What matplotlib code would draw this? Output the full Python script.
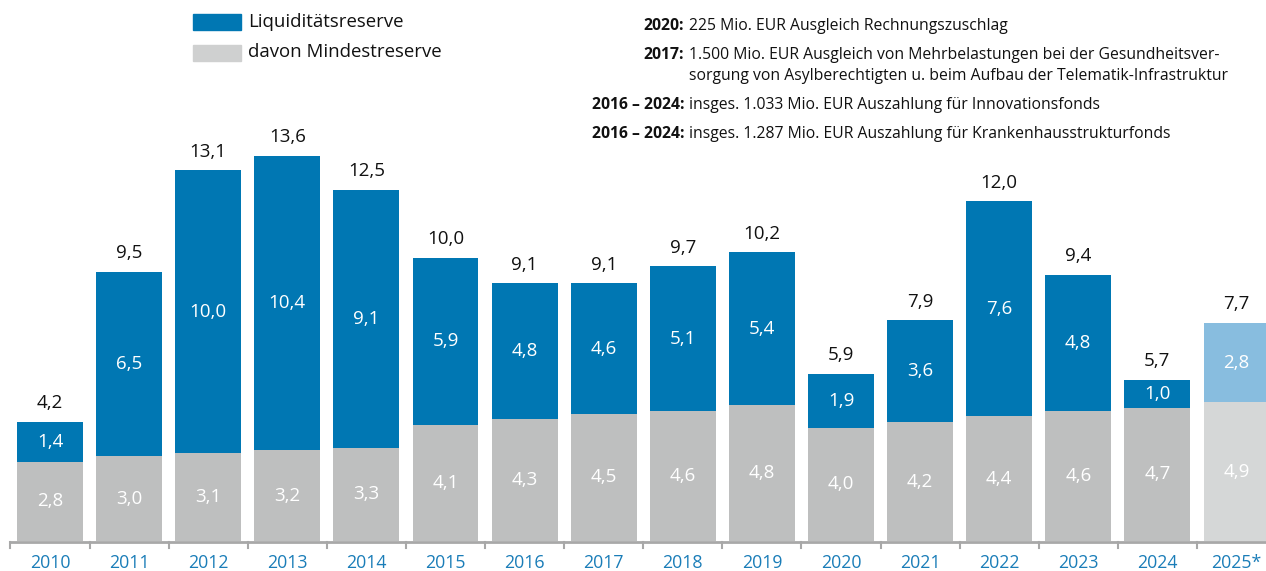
import matplotlib
matplotlib.use('Agg')
import matplotlib.pyplot as plt
from matplotlib.patches import Rectangle

# ---- Data ----
years = ['2010', '2011', '2012', '2013', '2014', '2015', '2016', '2017',
         '2018', '2019', '2020', '2021', '2022', '2023', '2024', '2025*']
mindest = [2.8, 3.0, 3.1, 3.2, 3.3, 4.1, 4.3, 4.5, 4.6, 4.8, 4.0, 4.2, 4.4, 4.6, 4.7, 4.9]
ueber = [1.4, 6.5, 10.0, 10.4, 9.1, 5.9, 4.8, 4.6, 5.1, 5.4, 1.9, 3.6, 7.6, 4.8, 1.0, 2.8]
gesamt = [4.2, 9.5, 13.1, 13.6, 12.5, 10.0, 9.1, 9.1, 9.7, 10.2, 5.9, 7.9, 12.0, 9.4, 5.7, 7.7]

note_labels = ['2020:', '2017:', '2016 – 2024:', '2016 – 2024:']
note_texts = [
    ['225 Mio. EUR Ausgleich Rechnungszuschlag'],
    ['1.500 Mio. EUR Ausgleich von Mehrbelastungen bei der Gesundheitsver-',
     'sorgung von Asylberechtigten u. beim Aufbau der Telematik-Infrastruktur'],
    ['insges. 1.033 Mio. EUR Auszahlung für Innovationsfonds'],
    ['insges. 1.287 Mio. EUR Auszahlung für Krankenhausstrukturfonds'],
]

BLUE = '#0077b3'
GREY = '#bebfbf'
BLUE_EST = '#88bddf'
GREY_EST = '#d5d7d7'
YEAR_COL = '#1a7db8'

plt.rcParams['font.family'] = ['Open Sans', 'DejaVu Sans']

W, H = 1266, 571
fig = plt.figure(figsize=(W / 100, H / 100), dpi=100)
base_px = 541
ax = fig.add_axes([0, (H - base_px) / H, 1, base_px / H])
px_per_unit = 28.3
ax.set_ylim(0, base_px / px_per_unit)
step = 79.1
ax.set_xlim(-50 / step, (W - 50) / step)
ax.axis('off')

n = len(years)
x = list(range(n))
cols_g = [GREY] * (n - 1) + [GREY_EST]
cols_b = [BLUE] * (n - 1) + [BLUE_EST]
bw = 0.834
ax.bar(x, mindest, width=bw, color=cols_g, zorder=2)
ax.bar(x, ueber, bottom=mindest, width=bw, color=cols_b, zorder=2)


def fmt(v):
    return f'{v:.1f}'.replace('.', ',')


for i in x:
    top = mindest[i] + ueber[i]
    ax.text(i, mindest[i] / 2, fmt(mindest[i]), ha='center', va='center',
            color='white', fontsize=13.5, zorder=3)
    ax.text(i, mindest[i] + ueber[i] / 2, fmt(ueber[i]), ha='center',
            va='center', color='white', fontsize=13.5, zorder=3)
    ax.text(i, top + 0.66, fmt(gesamt[i]), ha='center', va='center',
            color='#111111', fontsize=13.5, zorder=3)

# axis line, ticks and year labels
ax.plot([-0.5, n], [-0.05, -0.05], color='#a8a8a8', lw=2, clip_on=False, zorder=1)
for i in range(n + 1):
    ax.plot([i - 0.5, i - 0.5], [-0.05, -0.25], color='#a8a8a8', lw=1.5, clip_on=False)
for i in x:
    ax.text(i, -0.78, years[i], ha='center', va='center', color=YEAR_COL,
            fontsize=12.8, clip_on=False)


# legend (figure pixel coords)
def fx(px):
    return px / W


def fy(py):
    return 1 - py / H


fig.patches.append(Rectangle((fx(193), fy(30)), 48 / W, 16 / H, color=BLUE,
                             transform=fig.transFigure, figure=fig))
fig.patches.append(Rectangle((fx(193), fy(61)), 48 / W, 16 / H, color='#cfd0d0',
                             transform=fig.transFigure, figure=fig))
fig.text(fx(248), fy(22), 'Liquiditätsreserve', ha='left', va='center', fontsize=13.4, color='#111111')
fig.text(fx(248), fy(52), 'davon Mindestreserve', ha='left', va='center', fontsize=13.4, color='#111111')

# notes
note_y = [26, 55, 105, 134]
for lab, lines, yy in zip(note_labels, note_texts, note_y):
    fig.text(fx(684), fy(yy), lab, ha='right', va='center', fontsize=11.3,
             fontweight='bold', color='#111111')
    for k, line in enumerate(lines):
        fig.text(fx(689), fy(yy + 21 * k), line, ha='left', va='center',
                 fontsize=11.3, color='#111111')

fig.savefig('out.png', dpi=100)
